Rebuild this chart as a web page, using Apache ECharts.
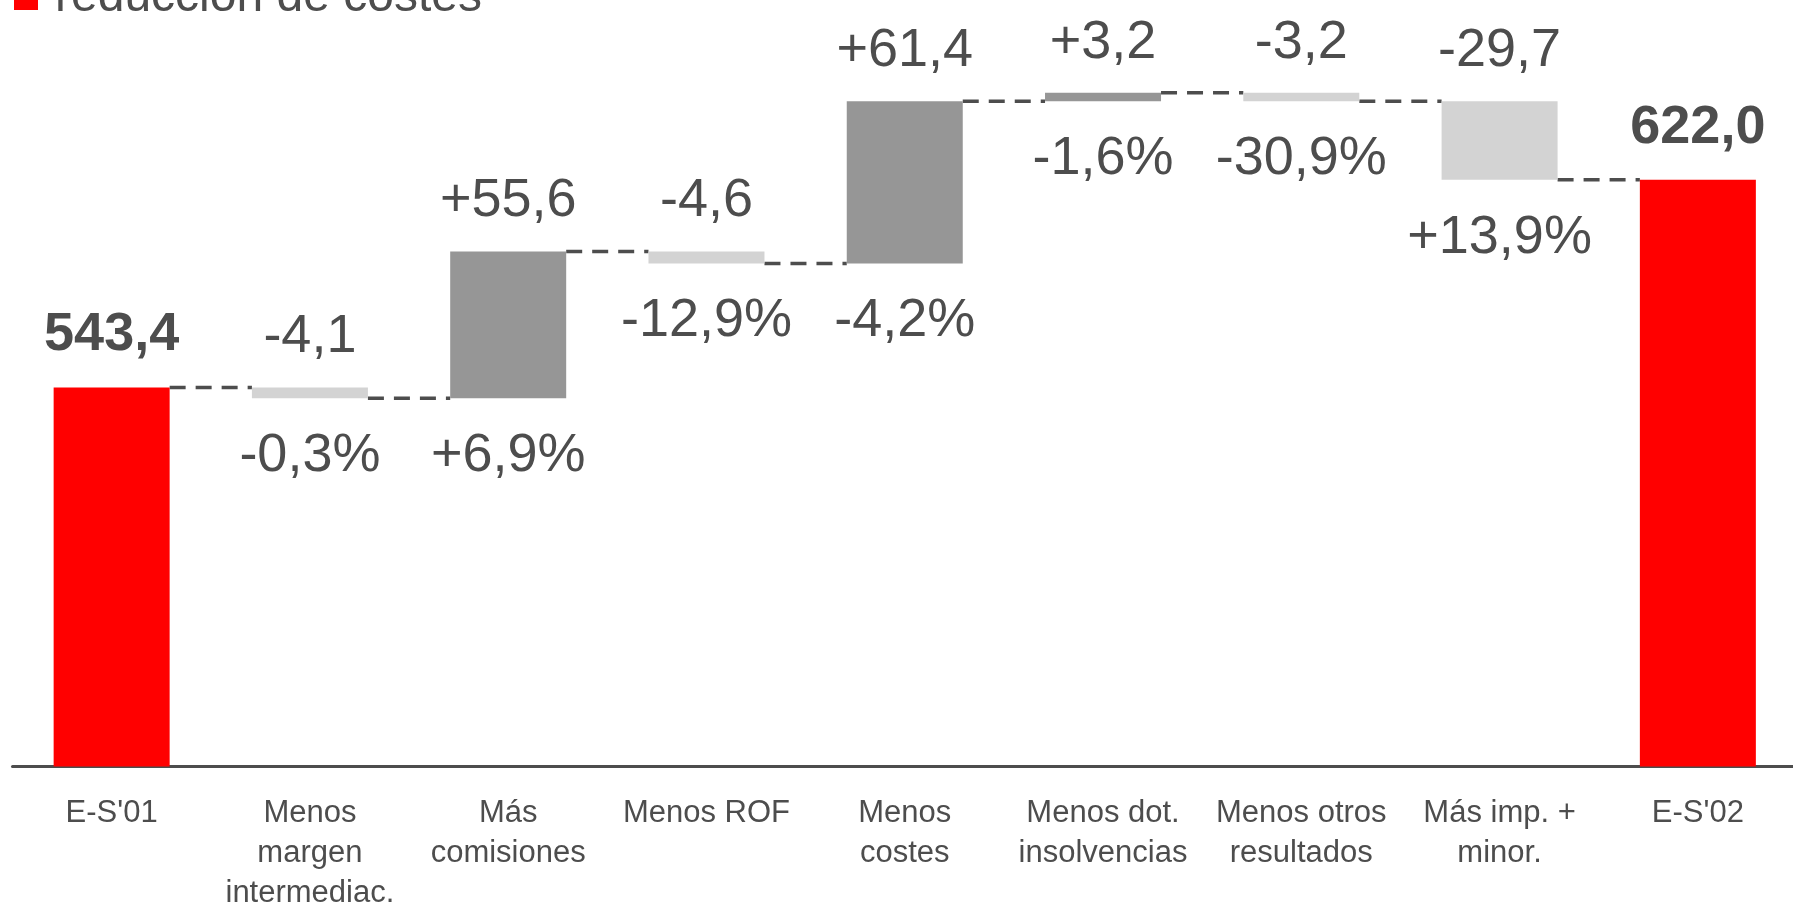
<!DOCTYPE html>
<html>
<head>
<meta charset="utf-8">
<script src="https://cdn.jsdelivr.net/npm/echarts@6/dist/echarts.min.js"></script>
<style>
    html, body { margin: 0; padding: 0; background: #fff; }
    #chart { width: 1793px; height: 904px; }
</style>
</head>
<body>
<div id="chart"></div>
<script>
// datos del gráfico
const categories = ["E-S'01", 'Menos\nmargen\nintermediac.', 'Más\ncomisiones', 'Menos ROF', 'Menos\ncostes',
    'Menos dot.\ninsolvencias', 'Menos otros\nresultados', 'Más imp. +\nminor.', "E-S'02"];
// variaciones (los totales van en su propio array)
const deltas = [null, -4.1, 55.6, -4.6, 61.4, 3.2, -3.2, -29.7, null];
const totals = [543.4, null, null, null, null, null, null, null, 622.0];
const pcts = [null, -0.3, 6.9, -12.9, -4.2, -1.6, -30.9, 13.9, null];
const legendName = 'reducción de costes';

const txt = '#4d4d4d';
const font = "'Liberation Sans', Arial, sans-serif";

const fmt = (v, sign) => (sign && v > 0 ? '+' : '') + v.toFixed(1).replace('.', ',');

// armar la cascada
let base = [], up = [], down = [], red = [], levels = [];
let acc = 0;
categories.forEach((c, i) => {
    if (totals[i] != null) {
        acc = totals[i];
        base.push(0); up.push(0); down.push(0); red.push(totals[i]);
    } else {
        const d = deltas[i];
        if (d >= 0) {
            base.push(acc); up.push(d); down.push(0);
        } else {
            base.push(acc + d); up.push(0); down.push(-d);
        }
        red.push(0);
        acc += d;
    }
    if (i < categories.length - 1) levels.push([i, acc]);
});

const halfBar = 58;
const labelSize = 54;

let myChart = echarts.init(document.getElementById('chart'));
let option = {
    animation: false,
    textStyle: { fontFamily: font },
    legend: {
        data: [legendName],
        left: 14,
        top: -26,
        padding: 0,
        icon: 'rect',
        itemWidth: 24,
        itemHeight: 24,
        selectedMode: false,
        textStyle: { fontSize: 48, color: txt, fontFamily: font, padding: [0, 0, 0, 12] }
    },
    grid: {
        left: 12.5,
        right: -4,
        top: 26.5,
        bottom: 137.5,
        containLabel: false,
        outerBoundsMode: 'none'
    },
    xAxis: {
        type: 'category',
        data: categories,
        axisLine: { lineStyle: { color: txt, width: 3 } },
        axisTick: { show: false },
        axisLabel: {
            interval: 0,
            color: txt,
            fontSize: 31,
            lineHeight: 40,
            margin: 27,
            fontFamily: font
        }
    },
    yAxis: {
        type: 'value',
        min: 400,
        max: 680,
        show: false,
        splitLine: { show: false }
    },
    series: [
        {
            name: 'base',
            type: 'bar',
            stack: 'w',
            barWidth: 116,
            data: base,
            itemStyle: { color: 'transparent' },
            label: {
                show: true,
                position: 'insideTop',
                distance: 31,
                fontSize: labelSize,
                color: txt,
                formatter: p => pcts[p.dataIndex] == null ? '' : fmt(pcts[p.dataIndex], true) + '%'
            },
            silent: true
        },
        {
            name: 'sube',
            type: 'bar',
            stack: 'w',
            data: up,
            itemStyle: { color: '#969696' },
            label: {
                show: true,
                position: 'top',
                distance: 23,
                fontSize: labelSize,
                color: txt,
                formatter: p => p.value ? fmt(p.value, true) : ''
            }
        },
        {
            name: 'baja',
            type: 'bar',
            stack: 'w',
            data: down,
            itemStyle: { color: '#d3d3d3' },
            label: {
                show: true,
                position: 'top',
                distance: 23,
                fontSize: labelSize,
                color: txt,
                formatter: p => p.value ? '-' + fmt(p.value, false) : ''
            }
        },
        {
            name: legendName,
            type: 'bar',
            stack: 'w',
            data: red,
            itemStyle: { color: '#ff0000' },
            label: {
                show: true,
                position: 'top',
                distance: 25,
                fontSize: labelSize,
                fontWeight: 'bold',
                color: txt,
                formatter: p => p.value ? fmt(p.value, false) : ''
            }
        },
        {
            name: 'conector',
            type: 'custom',
            data: levels,
            silent: true,
            renderItem: (params, api) => {
                const p = api.coord([api.value(0), api.value(1)]);
                const bw = api.size([1, 0])[0];
                return {
                    type: 'line',
                    shape: { x1: p[0] + halfBar, y1: p[1], x2: p[0] + bw - halfBar, y2: p[1] },
                    style: { stroke: txt, lineWidth: 3.5, lineDash: [16, 10] }
                };
            }
        }
    ]
};
myChart.setOption(option);
</script>
</body>
</html>
